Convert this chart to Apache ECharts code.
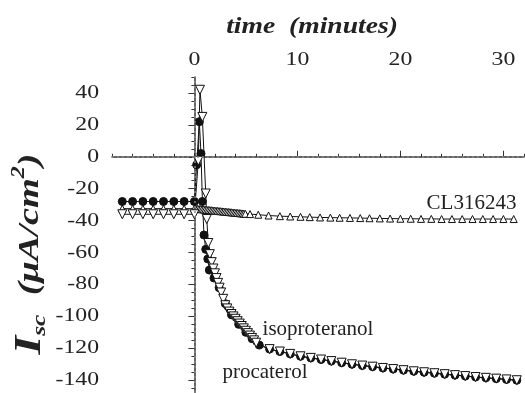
<!DOCTYPE html>
<html>
<head>
<meta charset="utf-8">
<script src="https://cdn.jsdelivr.net/npm/echarts@6/dist/echarts.min.js"></script>
<style>
  html, body { margin: 0; background: #fff; }
  #chart { width: 525px; height: 393px; }
</style>
</head>
<body>
<div id="chart"></div>
<script>
// axis ticks (minutes / uA per cm2)
const xMinorTicks = [-8, -6, -4, -2, 0, 2, 4, 6, 8, 10, 12, 14, 16, 18, 20, 22, 24, 26, 28, 30, 32]
const xMajorTicks = [0, 10, 20, 30]
const yMinorTicks = [-145, -135, -130, -125, -115, -110, -105, -95, -90, -85, -75, -70, -65, -55, -50, -45, -35, -30, -25, -15, -10, -5, 5, 10, 15, 25, 30, 35, 45, 50]
const yMajorTicks = [-140, -120, -100, -80, -60, -40, -20, 0, 20, 40]

// procaterol (filled circles)
const procaterolT = [-7, -6, -5, -4, -3, -2, -1, 0, 0.22, 0.48, 0.64, 0.78, 0.93, 1.1, 1.3, 1.45, 1.9, 2.4, 3.0, 3.6, 4.3, 5.0, 5.6,
  6.3, 7.3, 8.3, 9.3, 10.3, 11.3, 12.3, 13.3, 14.3, 15.3, 16.3, 17.3, 18.3, 19.3, 20.3, 21.3, 22.3, 23.3, 24.3, 25.3, 26.3, 27.3, 28.3, 29.3, 30.3, 31.3]
const procaterolV = [-28, -28, -28, -28, -28, -28, -28, -28, -5, 22, 2, -28, -49, -58, -64, -71, -76, -82, -92, -99, -105, -110, -114,
  -118, -120.5, -122, -123.5, -125, -126, -127, -128, -129, -130, -130.8, -131.5, -132.3, -133, -133.7, -134.4, -135, -135.6, -136.2, -136.8, -137.4, -138, -138.5, -139, -139.5, -140]

// isoproteranol (open down triangles)
const isoT = [-7, -6, -5, -4, -3, -2, -1, 0, 0.38, 0.54, 0.77, 1.1, 1.2, 1.35, 1.5, 1.68, 1.85, 2.0, 2.15, 2.3, 2.45, 2.6, 2.8, 3.0,
  3.2, 3.4, 3.6, 3.8, 4.0, 4.2, 4.4, 4.6, 4.8, 5.0, 5.2, 5.4, 5.6, 5.8, 6.0,
  7.3, 8.3, 9.3, 10.3, 11.3, 12.3, 13.3, 14.3, 15.3, 16.3, 17.3, 18.3, 19.3, 20.3, 21.3, 22.3, 23.3, 24.3, 25.3, 26.3, 27.3, 28.3, 29.3, 30.3, 31.3]
const isoV = [-36, -36, -36, -36, -36, -36, -36, -36, -2.5, 42, 25, -23, -39, -54, -61, -66, -70, -73, -76, -79, -82, -85, -89, -93,
  -95, -97, -98.5, -100, -101.5, -103, -104.5, -106, -107.5, -109, -110.5, -112, -113.5, -115, -116.5,
  -120.5, -122, -123.5, -125, -126, -127, -128, -129, -130, -130.8, -131.5, -132.3, -133, -133.7, -134.4, -135, -135.6, -136.2, -136.8, -137.4, -138, -138.5, -139, -139.5, -140]

// CL316243 (open up triangles)
const clT = [-7, -6, -5, -4, -3, -2, -1, 0, 0.15, 0.3, 0.45, 0.6, 0.75, 0.9, 1.05, 1.2, 1.35, 1.5, 1.65, 1.8, 1.95, 2.1, 2.25, 2.4,
  2.55, 2.7, 2.85, 3.0, 3.15, 3.3, 3.45, 3.6, 3.75, 3.9, 4.05, 4.2, 4.35, 4.5, 4.65, 4.8, 4.95, 5.4, 6.2, 7.2, 8.3, 9.3,
  10.3, 11.2, 12.2, 13.2, 14.1, 15.1, 16.1, 17, 18, 19, 20, 21, 22, 23, 24, 25, 26, 27, 28, 29, 30, 31]
const clV = [-32.5, -32.5, -32.5, -32.5, -32.5, -32.5, -32.5, -32.5, -32.5, -32.6, -32.7, -32.8, -32.9, -33, -33.1, -33.2, -33.3, -33.4, -33.5, -33.6, -33.7, -33.8, -33.9, -34,
  -34.1, -34.2, -34.3, -34.4, -34.5, -34.6, -34.7, -34.8, -34.9, -35, -35.1, -35.2, -35.3, -35.4, -35.5, -35.6, -35.7, -35.9, -36.3, -36.8, -37.2, -37.4,
  -37.6, -37.8, -38, -38.1, -38.2, -38.3, -38.4, -38.5, -38.6, -38.7, -38.8, -38.8, -38.9, -38.9, -39, -39, -39, -39, -39, -39, -39, -39]

const serif = 'Liberation Serif'
const ink = '#222'
// the source figure's lettering is stretched sideways
const stretch = 1.25

const pairs = (ts, vs) => ts.map((t, i) => [t, vs[i]])

const chart = echarts.init(document.getElementById('chart'), null, { renderer: 'canvas' })

const seriesBase = {
  type: 'line',
  xAxisIndex: 0,
  yAxisIndex: 0,
  lineStyle: { color: '#111', width: 1 },
  emphasis: { disabled: true },
  animation: false,
}

const labelStyle = { show: true, fontFamily: serif, fontSize: 21, color: ink }
const boldItalic = { fontFamily: serif, fontWeight: 'bold', fontStyle: 'italic', fill: ink }

const titles = [
  {
    type: 'text', x: 312, y: 27, scaleX: 1.2,
    style: {
      text: '{t|time  (minutes)}', align: 'center', verticalAlign: 'middle',
      rich: { t: { ...boldItalic, fontSize: 23 } },
    },
  },
  {
    type: 'text', x: 30, y: 254, rotation: Math.PI / 2, scaleX: 1.42, scaleY: 1.1,
    style: {
      text: '{i|I}{s|sc}{n|  (μA/cm}{p|2}{n|)}', align: 'center', verticalAlign: 'middle',
      rich: {
        i: { ...boldItalic, fontSize: 34, lineHeight: 36 },
        s: { ...boldItalic, fontSize: 18, verticalAlign: 'bottom', lineHeight: 36 },
        n: { ...boldItalic, fontSize: 27, lineHeight: 36 },
        p: { ...boldItalic, fontSize: 17, verticalAlign: 'top', lineHeight: 36 },
      },
    },
  },
]

chart.setOption({
  animation: false,
  textStyle: { fontFamily: serif },
  grid: { left: 112, right: 1, top: 77, bottom: 0 },
  xAxis: [
    {
      type: 'value', position: 'top', min: -8, max: 32,
      axisLine: { lineStyle: { color: '#333', width: 1.5 } },
      axisTick: { length: 3, customValues: xMinorTicks, lineStyle: { color: '#333' } },
      axisLabel: { show: false },
      splitLine: { show: false },
    },
    {
      type: 'value', position: 'top', min: -8, max: 32,
      axisLine: { show: false },
      axisTick: { length: 6, customValues: xMajorTicks, lineStyle: { color: '#333' } },
      axisLabel: { show: false },
      splitLine: { show: false },
    },
  ],
  yAxis: [
    {
      type: 'value', position: 'left', min: -148, max: 50,
      axisLine: { lineStyle: { color: '#333', width: 1.5 } },
      axisTick: { length: 3, customValues: yMinorTicks, lineStyle: { color: '#333' } },
      axisLabel: { show: false },
      splitLine: { show: false },
    },
    {
      type: 'value', position: 'left', min: -148, max: 50,
      axisLine: { show: false },
      axisTick: { length: 6, customValues: yMajorTicks, lineStyle: { color: '#333' } },
      axisLabel: { show: false },
      splitLine: { show: false },
    },
  ],
  graphic: titles,
  series: [
    {
      ...seriesBase,
      name: 'CL316243',
      data: pairs(clT, clV),
      symbol: 'triangle', symbolSize: 7,
      itemStyle: { color: '#fff', borderColor: '#111', borderWidth: 1 },
      markLine: {
        silent: true, symbol: ['none', 'none'], label: { show: false },
        lineStyle: { color: '#888', type: [2, 3], width: 1.5 },
        data: [{ xAxis: 0 }, { yAxis: 0 }],
      },
      markPoint: {
        symbol: 'circle', symbolSize: 1, itemStyle: { color: 'rgba(0,0,0,0)' },
        label: { ...labelStyle, position: 'inside', formatter: 'CL316243' },
        data: [{ coord: [26.9, -29.4] }],
      },
    },
    {
      ...seriesBase,
      name: 'procaterol',
      data: pairs(procaterolT, procaterolV),
      symbol: 'circle', symbolSize: 8,
      itemStyle: { color: '#111', borderColor: '#111', borderWidth: 1 },
      markPoint: {
        symbol: 'circle', symbolSize: 1, itemStyle: { color: 'rgba(0,0,0,0)' },
        label: { ...labelStyle, position: 'inside', formatter: 'procaterol' },
        data: [{ coord: [6.85, -135] }],
      },
    },
    {
      ...seriesBase,
      name: 'isoproteranol',
      data: pairs(isoT, isoV),
      symbol: 'triangle', symbolRotate: 180, symbolSize: 9,
      itemStyle: { color: '#fff', borderColor: '#111', borderWidth: 1 },
      markPoint: {
        symbol: 'circle', symbolSize: 1, itemStyle: { color: 'rgba(0,0,0,0)' },
        label: { ...labelStyle, position: 'inside', formatter: 'isoproteranol' },
        data: [{ coord: [12, -108] }],
      },
    },
  ],
})

// tick labels, placed through the axes' own scales and widened like the source lettering
const tickText = { fontFamily: serif, fontSize: 19, fill: ink }
const xLabels = xMajorTicks.map((v) => ({
  type: 'text', x: chart.convertToPixel({ xAxisIndex: 0 }, v), y: 70, scaleX: stretch,
  style: { ...tickText, text: String(v), align: 'center', verticalAlign: 'bottom' },
}))
const yLabels = yMajorTicks.map((v) => ({
  type: 'text', x: 99, y: chart.convertToPixel({ yAxisIndex: 0 }, v), scaleX: stretch,
  style: { ...tickText, text: String(v), align: 'right', verticalAlign: 'middle' },
}))
chart.setOption({ graphic: [...titles, ...xLabels, ...yLabels] })
</script>
</body>
</html>
